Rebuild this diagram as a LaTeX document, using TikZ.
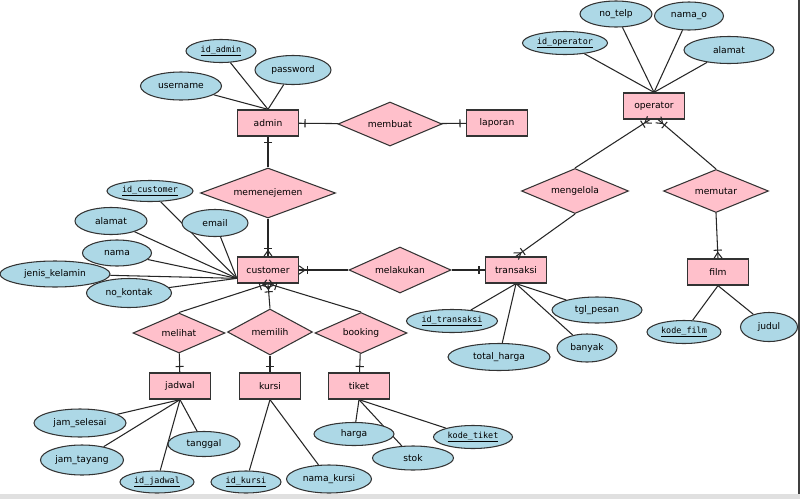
\documentclass[tikz,border=0pt]{standalone}
\usepackage{fontspec}
\setmainfont{DejaVu Sans}
\setmonofont{DejaVu Sans Mono}
\usetikzlibrary{shapes.geometric, decorations.markings, backgrounds}
\definecolor{entitypink}{RGB}{255,192,203}
\definecolor{attrblue}{RGB}{173,216,230}
\newcommand{\pk}[1]{{\ttfamily\fontsize{7.2}{8}\selectfont\underline{#1}}}

\begin{document}
\begin{tikzpicture}[x=0.03cm, y=-0.03cm, line width=0.9pt,
  font=\fontsize{7.8}{9}\selectfont,
  entity/.style={draw=black!80, line width=1.1pt, fill=entitypink, minimum width=1.83cm, minimum height=0.78cm, inner sep=0pt},
  rel/.style 2 args={diamond, aspect=2.3, draw=black!80, fill=entitypink, minimum width=#1, minimum height=#2, inner sep=0pt},
  attr/.style 2 args={ellipse, draw=black!80, fill=attrblue, minimum width=#1, minimum height=#2, inner sep=0pt},
  link/.style={draw=black!85, line width=0.9pt},
  one/.style={link, postaction={decorate, decoration={markings,
      mark=at position -5pt with {\draw[line width=0.9pt] (0,-3.5pt) -- (0,3.5pt);}}}},
  many/.style={link, postaction={decorate, decoration={markings,
      mark=at position -7pt with {\draw[line width=0.9pt] (0,-3.5pt) -- (0,3.5pt);},
      mark=at position 1 with {\draw[line width=0.9pt] (-5pt,0) -- (0,3.5pt) (-5pt,0) -- (0,-3.5pt);}}}}]
\useasboundingbox (0,0) rectangle (800,499);

% Entitas
\node[entity] (admin) at (268,123) {admin};
\node[entity] (laporan) at (497,123) {laporan};
\node[entity] (customer) at (268,270) {customer};
\node[entity] (transaksi) at (516,270) {transaksi};
\node[entity] (operator) at (654,106) {operator};
\node[entity] (film) at (718,272) {film};
\node[entity] (jadwal) at (180,386) {jadwal};
\node[entity] (kursi) at (270,386) {kursi};
\node[entity] (tiket) at (359,386) {tiket};

% Relasi
\node[rel={3.12cm}{1.32cm}] (membuat) at (390,124) {membuat};
\node[rel={4.05cm}{1.5cm}] (memenejemen) at (268,193) {memenejemen};
\node[rel={3.06cm}{1.38cm}] (melakukan) at (400,270) {melakukan};
\node[rel={3.21cm}{1.35cm}] (mengelola) at (575,191) {mengelola};
\node[rel={3.15cm}{1.29cm}] (memutar) at (716,191) {memutar};
\node[rel={2.76cm}{1.2cm}] (melihat) at (179,333) {melihat};
\node[rel={2.55cm}{1.38cm}] (memilih) at (270,332) {memilih};
\node[rel={2.76cm}{1.23cm}] (booking) at (361,333) {booking};

% Atribut admin
\node[attr={2.1cm}{0.69cm}] (idadmin) at (221,51) {\pk{id\_admin}};
\node[attr={2.28cm}{0.87cm}] (password) at (293,70) {password};
\node[attr={2.43cm}{0.84cm}] (username) at (181,86) {username};

% Atribut customer
\node[attr={2.58cm}{0.63cm}] (idcustomer) at (150,191) {\pk{id\_customer}};
\node[attr={2.16cm}{0.81cm}] (alamat) at (111,221) {alamat};
\node[attr={1.98cm}{0.81cm}] (email) at (215,223) {email};
\node[attr={2.07cm}{0.78cm}] (nama) at (117,253) {nama};
\node[attr={3.3cm}{0.78cm}] (jenis) at (55,274) {jenis\_kelamin};
\node[attr={2.55cm}{0.87cm}] (nokontak) at (129,293) {no\_kontak};

% Atribut jadwal, kursi, tiket
\node[attr={2.76cm}{0.84cm}] (jamselesai) at (80,423) {jam\_selesai};
\node[attr={2.49cm}{0.9cm}] (jamtayang) at (82,460) {jam\_tayang};
\node[attr={2.16cm}{0.75cm}] (tanggal) at (204,444) {tanggal};
\node[attr={2.22cm}{0.66cm}] (idjadwal) at (157,482) {\pk{id\_jadwal}};
\node[attr={2.1cm}{0.66cm}] (idkursi) at (246,482) {\pk{id\_kursi}};
\node[attr={2.55cm}{0.84cm}] (namakursi) at (329,479) {nama\_kursi};
\node[attr={2.4cm}{0.69cm}] (harga) at (354,434) {harga};
\node[attr={2.43cm}{0.72cm}] (stok) at (413,458) {stok};
\node[attr={2.37cm}{0.69cm}] (kodetiket) at (473,437) {\pk{kode\_tiket}};

% Atribut transaksi
\node[attr={2.73cm}{0.69cm}] (idtransaksi) at (452,321) {\pk{id\_transaksi}};
\node[attr={3.06cm}{0.81cm}] (totalharga) at (499,357) {total\_harga};
\node[attr={1.8cm}{0.84cm}] (banyak) at (587,348) {banyak};
\node[attr={2.7cm}{0.78cm}] (tglpesan) at (597,310) {tgl\_pesan};

% Atribut film, operator
\node[attr={2.22cm}{0.69cm}] (kodefilm) at (684,332) {\pk{kode\_film}};
\node[attr={1.71cm}{0.87cm}] (judul) at (769,327) {judul};
\node[attr={2.16cm}{0.78cm}] (notelp) at (616,14) {no\_telp};
\node[attr={2.07cm}{0.84cm}] (namao) at (689,16) {nama\_o};
\node[attr={2.55cm}{0.69cm}] (idoperator) at (565,43) {\pk{id\_operator}};
\node[attr={2.7cm}{0.81cm}] (alamato) at (729,50) {alamat};

% Garis atribut
\begin{scope}[on background layer]
  \fill[white] (0,0) rectangle (800,499);
  \foreach \a in {idadmin,password,username}
    \draw[link] (\a) -- (admin.north);
  \foreach \a in {idcustomer,alamat,email,nama,jenis,nokontak}
    \draw[link] (\a) -- (customer.195);
  \foreach \a in {jamselesai,jamtayang,tanggal,idjadwal}
    \draw[link] (\a) -- (jadwal.south);
  \foreach \a in {idkursi,namakursi}
    \draw[link] (\a) -- (kursi.south);
  \foreach \a in {harga,stok,kodetiket}
    \draw[link] (\a) -- (tiket.south);
  \foreach \a in {idtransaksi,totalharga,banyak,tglpesan}
    \draw[link] (\a) -- (transaksi.south);
  \foreach \a in {kodefilm,judul}
    \draw[link] (\a) -- (film.south);
  \foreach \a in {notelp,namao,idoperator,alamato}
    \draw[link] (\a) -- (operator.north);
\end{scope}

% Garis relasi
\draw[one] (membuat) -- (admin);
\draw[one] (membuat) -- (laporan);
\draw[one] (memenejemen) -- (admin);
\draw[many] (memenejemen) -- (customer);
\draw[many] (melakukan) -- (customer);
\draw[one] (melakukan) -- (transaksi);
\draw[many] (melihat.north) -- (customer.south);
\draw[many] (memilih.north) -- (customer.south);
\draw[many] (booking.north) -- (customer.south);
\draw[one] (melihat) -- (jadwal);
\draw[one] (memilih) -- (kursi);
\draw[one] (booking) -- (tiket);
\draw[many] (mengelola.north) -- (operator.253);
\draw[many] (mengelola.south) -- (transaksi.north);
\draw[many] (memutar.north) -- (operator.287);
\draw[many] (memutar.south) -- (film.north);

% Tepi
\fill[black!12] (0,494) rectangle (800,499);
\draw[black!75, line width=1.2pt] (798.8,0) -- (798.8,494);
\end{tikzpicture}
\end{document}
